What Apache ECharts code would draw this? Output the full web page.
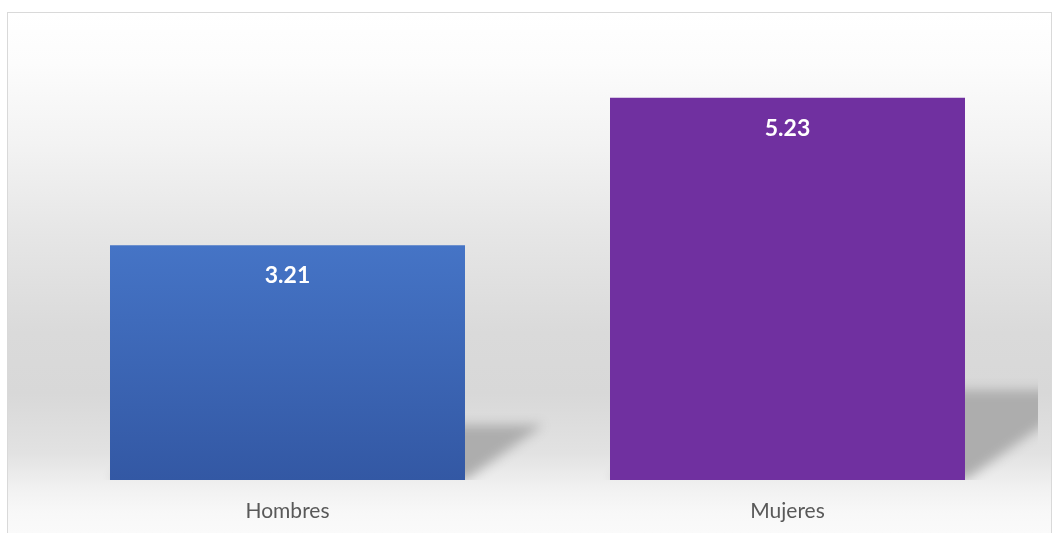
<!DOCTYPE html>
<html>
<head>
<meta charset="utf-8">
<script src="https://cdn.jsdelivr.net/npm/echarts@6/dist/echarts.min.js"></script>
<style>
  html, body { margin: 0; padding: 0; background: #ffffff; }
  #frame {
    position: absolute; left: 7px; top: 12px; width: 1045px; height: 530px;
    border: 1px solid #d9d9d9; box-sizing: border-box;
    background: linear-gradient(to bottom,
      #ffffff 0px, #fcfcfc 50px, #f3f3f3 130px, #e6e6e6 220px,
      #dadada 320px, #d8d8d8 380px, #e2e2e2 440px, #f2f2f2 478px,
      #f8f8f8 500px, #fbfbfb 530px);
  }
  #chart { position: absolute; left: 0; top: 0; width: 1053px; height: 533px; }
</style>
</head>
<body>
<div id="frame"></div>
<div id="chart"></div>
<script>
// Average value by sex
const categories = ['Hombres', 'Mujeres'];
const values = [3.21, 5.23];
const barColors = [
  ['#4574c6', '#3358a4'],
  ['#7030a0', '#7030a0']
];

const chart = echarts.init(document.getElementById('chart'), null, { renderer: 'canvas' });

const barData = values.map((v, i) => ({
  value: v,
  itemStyle: {
    color: new echarts.graphic.LinearGradient(0, 0, 0, 1, [
      { offset: 0, color: barColors[i][0] },
      { offset: 1, color: barColors[i][1] }
    ])
  }
}));

// Soft perspective shadow behind each bar, skewed to the right.
// The polygon itself sits off to the left; only its blurred shadow lands in place.
const SHIFT = 3000;
function renderShadow(params, api) {
  const idx = api.value(0);
  const val = api.value(1);
  const base = api.coord([idx, 0]);
  const top = api.coord([idx, val]);
  const w = api.size([1, 0])[0] * 0.71;
  const h = (base[1] - top[1]) * 0.235;
  const dx = h * 1.42;
  const L = base[0] - w / 2 - SHIFT, R = base[0] + w / 2 - SHIFT, y0 = base[1];
  return {
    type: 'polygon',
    shape: { points: [[L, y0], [R, y0], [R + dx, y0 - h], [L + dx, y0 - h]] },
    style: {
      fill: '#b0b0b0',
      shadowBlur: 12,
      shadowOffsetX: SHIFT,
      shadowColor: '#adadad'
    }
  };
}

chart.setOption({
  backgroundColor: 'transparent',
  animation: false,
  grid: { left: 37.5, right: 15.5, top: 41.4, bottom: 53, containLabel: false },
  xAxis: {
    type: 'category',
    data: categories,
    axisLine: { show: false },
    axisTick: { show: false },
    axisLabel: {
      color: '#595959',
      fontFamily: 'Lato',
      fontSize: 21,
      margin: 21
    }
  },
  yAxis: {
    type: 'value',
    min: 0,
    max: 6,
    show: false,
    splitLine: { show: false }
  },
  series: [
    {
      type: 'custom',
      clip: true,
      z: 1,
      silent: true,
      renderItem: renderShadow,
      data: values.map((v, i) => [i, v])
    },
    {
      type: 'bar',
      z: 2,
      barWidth: '71%',
      data: barData,
      label: {
        show: true,
        position: 'insideTop',
        distance: 19,
        color: '#ffffff',
        fontFamily: 'Lato',
        fontWeight: 'bold',
        fontSize: 23,
        formatter: p => p.value.toFixed(2)
      }
    }
  ]
});
</script>
</body>
</html>
